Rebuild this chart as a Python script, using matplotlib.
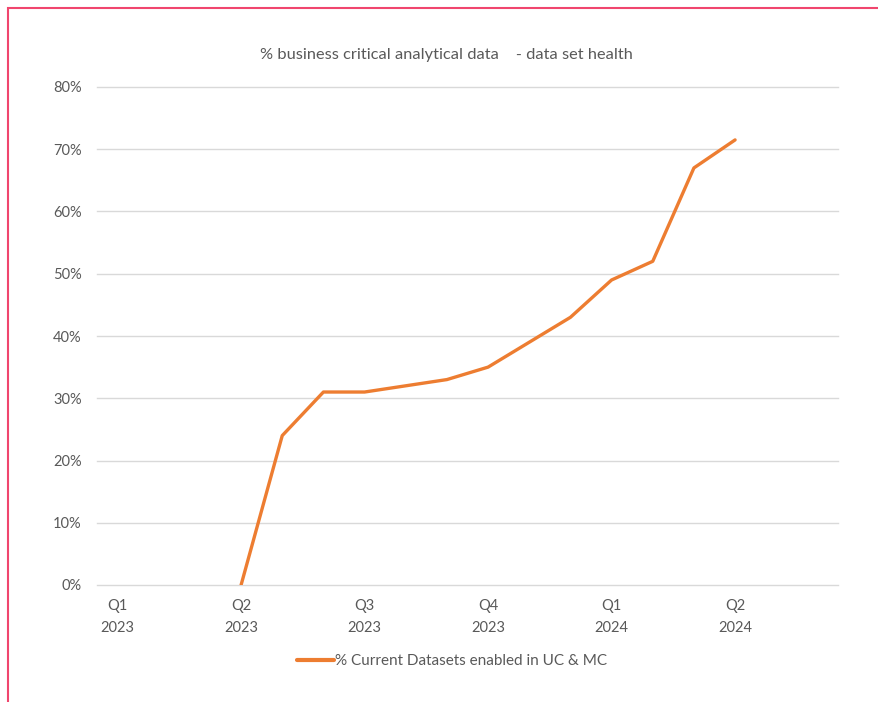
import numpy as np
import matplotlib.pyplot as plt
from matplotlib.patches import Rectangle

# monthly categories Jan 2023 - Jun 2024, quarter labels on quarter starts
tick_labels = ['Q1\n2023', '', '', 'Q2\n2023', '', '', 'Q3\n2023', '', '',
               'Q4\n2023', '', '', 'Q1\n2024', '', '', 'Q2\n2024', '', '']
values = [np.nan, np.nan, np.nan, 0, 24, 31, 31, 32, 33, 35, 39, 43, 49, 52, 67, 71.5,
          np.nan, np.nan]
series_name = '% Current Datasets enabled in UC & MC'
title = '% business critical analytical data    - data set health'

plt.rcParams['font.family'] = ['Lato', 'DejaVu Sans']
grey = '#595959'

fig = plt.figure(figsize=(8.79, 7.02), dpi=100)
ax = fig.add_axes([97 / 879, 1 - 585 / 702, 741 / 879, 498 / 702])

x = np.arange(len(tick_labels))
ax.plot(x, values, color='#ED7D31', lw=2.4, solid_capstyle='round', label=series_name)

ax.set_xlim(-0.5, len(tick_labels) - 0.5)
ax.set_ylim(0, 80)
ax.set_yticks(range(0, 81, 10))
ax.set_yticklabels([f'{v}%' for v in range(0, 81, 10)])
ax.set_xticks(x)
ax.set_xticklabels(tick_labels, linespacing=1.7)
ax.tick_params(length=0, labelsize=10.5, labelcolor=grey)
ax.tick_params(axis='y', pad=11)
ax.tick_params(axis='x', pad=10)
ax.grid(axis='y', color='#D9D9D9', lw=1)
for gl in ax.get_ygridlines():
    gl.set_clip_on(False)
ax.set_axisbelow(True)
for s in ax.spines.values():
    s.set_visible(False)

fig.text(446 / 879, 1 - 55 / 702, title, ha='center', va='center', fontsize=11.8, color=grey)

leg = fig.legend(loc='center', bbox_to_anchor=(452 / 879, 1 - 661 / 702), frameon=False,
                 fontsize=11, handlelength=2.4, handletextpad=0.1, labelcolor=grey)
for h in leg.legend_handles:
    h.set_linewidth(3)

# pink frame around the screenshot
fig.patches.append(Rectangle((8 / 879, -0.05), 1.1, 1 - 8 / 702 + 0.05, transform=fig.transFigure,
                             fill=False, edgecolor='#F0466E', lw=1.5))

fig.savefig('out.png', dpi=100)
